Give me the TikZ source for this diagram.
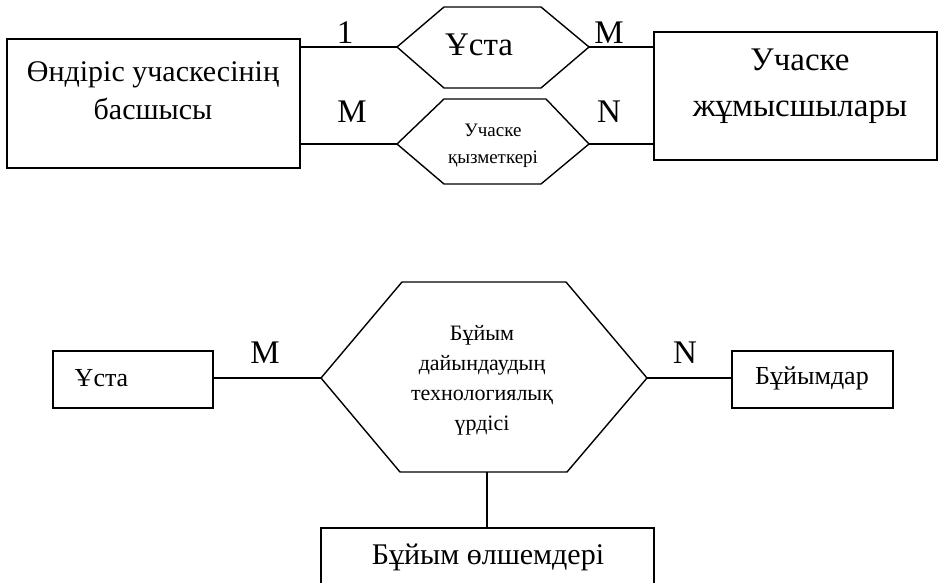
\documentclass[tikz,border=0pt]{standalone}
\usepackage{fontspec}
\setmainfont{Liberation Serif}
\begin{document}
\begin{tikzpicture}[x=1pt,y=-1pt,line width=1.4pt,
  box/.style={draw,line width=1.4pt,inner sep=0pt},
  txt/.style={inner sep=0pt,align=center},
  card/.style={inner sep=0pt,font=\fontsize{33}{36}\selectfont}]
\clip (0,0) rectangle (940,583);
\fill[white] (0,0) rectangle (940,583);
% ---------- top part ----------
\node[box,minimum width=293pt,minimum height=129pt] (boss) at (153.5,103.5) {};
\node[txt,font=\fontsize{30}{38}\selectfont] (bossT) at (153,91) {Өндіріс учаскесінің\\басшысы};
\node[box,minimum width=283pt,minimum height=128pt] (work) at (795.5,96) {};
\node[txt,font=\fontsize{33}{46}\selectfont] (workT) at (800,86) {Учаске\\жұмысшылары};
% hexagon Ұста
\coordinate (h1L) at (397,47);
\coordinate (h1R) at (589,47);
\draw (h1L) -- (444,7) -- (541,7) -- (h1R) -- (541,88) -- (444,88) -- cycle;
\node[txt,font=\fontsize{33}{36}\selectfont] (h1T) at (479,45) {Ұста};
% hexagon Учаске қызметкері
\coordinate (h2L) at (397,144);
\coordinate (h2R) at (589,144);
\draw (h2L) -- (444,99) -- (546,99) -- (h2R) -- (541,184) -- (444,184) -- cycle;
\node[txt,font=\fontsize{19}{27}\selectfont] (h2T) at (493,146) {Учаске\\қызметкері};
% connectors
\draw (boss.east |- h1L) -- (h1L);
\draw (boss.east |- h2L) -- (h2L);
\draw (h1R) -- (work.west |- h1R);
\draw (h2R) -- (work.west |- h2R);
\node[card] (c1) at (345,33) {1};
\node[card] (c2) at (352,112) {M};
\node[card] (c3) at (609,33) {M};
\node[card] (c4) at (609,112) {N};
% ---------- bottom part ----------
\node[box,minimum width=160pt,minimum height=57pt] (master) at (133,379.5) {};
\node[txt,font=\fontsize{26}{30}\selectfont] (masterT) at (101.5,378) {Ұста};
\node[box,minimum width=161pt,minimum height=57pt] (prod) at (812.5,379.5) {};
\node[txt,font=\fontsize{26}{30}\selectfont] (prodT) at (812,378) {Бұйымдар};
\coordinate (h3L) at (321,378);
\coordinate (h3R) at (647,378);
\coordinate (h3B) at (487,472);
\draw (h3L) -- (402,282) -- (566,282) -- (h3R) -- (567,472) -- (400,472) -- cycle;
\node[txt,font=\fontsize{22}{30}\selectfont] (h3T) at (482,380) {Бұйым\\дайындаудың\\технологиялық\\үрдісі};
\node[box,minimum width=333pt,minimum height=72pt] (dims) at (487.5,564) {};
\node[txt,font=\fontsize{30}{34}\selectfont] (dimsT) at (488,557) {Бұйым өлшемдері};
\draw (master.east |- h3L) -- (h3L);
\draw (h3R) -- (prod.west |- h3R);
\draw (h3B) -- (h3B |- dims.north);
\node[card] (c5) at (265,353) {M};
\node[card] (c6) at (685,353) {N};
\end{tikzpicture}
\end{document}
